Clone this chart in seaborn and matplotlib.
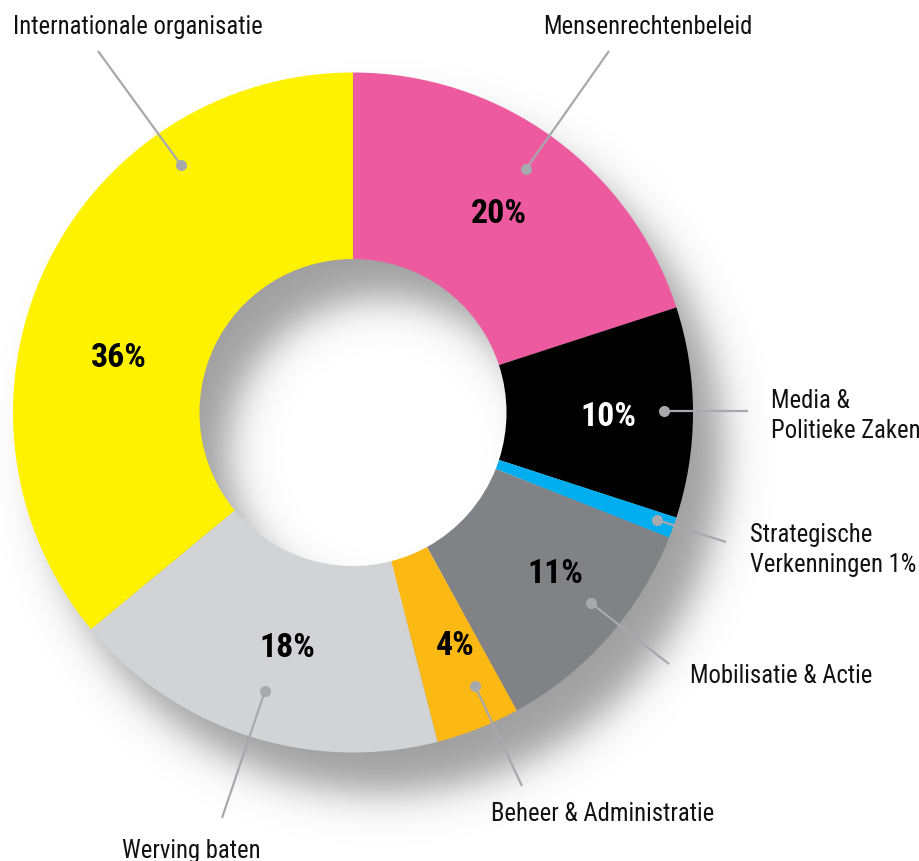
import numpy as np
import matplotlib
matplotlib.use("Agg")
import matplotlib.pyplot as plt
from matplotlib import font_manager
import seaborn as sns

# data, clockwise from 12 o'clock
categories = ["Mensenrechtenbeleid", "Media &\nPolitieke Zaken", "Strategische\nVerkenningen 1%",
              "Mobilisatie & Actie", "Beheer & Administratie", "Werving baten",
              "Internationale organisatie"]
shares = [20, 10, 1, 11, 4, 18, 36]
pct_labels = ["20%", "10%", "", "11%", "4%", "18%", "36%"]
colors = ["#ed5a9f", "#000000", "#00aeef", "#808285", "#fdb913", "#d1d3d4", "#fff200"]

# layout (pixel coordinates of the 919x862 image, y downward)
W, H = 919, 862
CX, CY = 353, 413.5
R_OUT, R_IN = 340, 153.5
pct_pos = [(499, 223), (608, 426), None, (555, 583), (455, 655), (287, 657), (119, 367)]
pct_colors = ["black", "white", None, "black", "black", "black", "black"]
# (text x, first baseline y, dot x, dot y, line end x, line end y)
callouts = [
    (543, 34, 526, 170, 609, 52),
    (771, 408, 664, 412, 748, 412),
    (750, 542, 657, 521, 726, 543),
    (690, 683, 591, 604, 669, 665),
    (491, 821, 475, 687, 522, 787),
    (122, 858, 265, 692, 222, 819),
    (13, 34, 181, 166, 98, 52),
]

sns.set_theme(style="white")

# pick a condensed face (the original uses a condensed gothic)
fonts = font_manager.fontManager.ttflist
have = {f.name for f in fonts}
label_font = next(n for n in ["Roboto Condensed", "Barlow Condensed", "Pathway Gothic One",
                              "Sofia Sans Condensed", "DejaVu Sans"] if n in have)
bold_ok = any(f.name == label_font and f.weight in (700, "bold") for f in fonts)
pct_font = label_font if bold_ok else next(
    n for n in ["Fjalla One", "Oswald", "Barlow Condensed", "DejaVu Sans"] if n in have)
plt.rcParams['font.family'] = [label_font, 'DejaVu Sans']


def fy(y):
    return H - y


fig = plt.figure(figsize=(W / 100, H / 100), dpi=100)
ax = fig.add_axes([0, 0, 1, 1])
renderer = fig.canvas.get_renderer()


def fit_size(txt, target_px, **kw):
    t = ax.text(0, 0, txt, fontsize=20, **kw)
    w = t.get_window_extent(renderer=renderer).width
    t.remove()
    return 20 * target_px / w


label_size = fit_size("Internationale organisatie", 248, family=[label_font, 'DejaVu Sans'])
pct_size = fit_size("36%", 56, family=[pct_font, 'DejaVu Sans'], fontweight="bold")

# soft drop shadow of the ring, offset down-right
xs = np.arange(W) + 0.5
ys = np.arange(H) + 0.5
gx, gy = np.meshgrid(xs, ys)
d = np.hypot(gx - (CX + 30), gy - (fy(CY) - 40))
s = 24.0
ring = 0.5 * (1 + np.tanh((R_OUT - d) / s)) - 0.5 * (1 + np.tanh((R_IN - d) / s))
shadow = np.zeros((H, W, 4))
shadow[..., 3] = 0.38 * np.clip(ring, 0, 1)
ax.imshow(shadow, extent=(0, W, 0, H), origin="lower", zorder=0, interpolation="bilinear")

ax.pie(shares, colors=colors, startangle=90, counterclock=False,
       radius=R_OUT, center=(CX, fy(CY)),
       wedgeprops=dict(width=R_OUT - R_IN, linewidth=0, zorder=1))

for lab, pos, c in zip(pct_labels, pct_pos, pct_colors):
    if pos is None:
        continue
    ax.text(pos[0], fy(pos[1]), lab, ha="center", va="baseline", color=c,
            fontsize=pct_size, fontweight="bold", family=[pct_font, 'DejaVu Sans'], zorder=3)

for cat, (tx, ty, dx, dy, lx, ly) in zip(categories, callouts):
    ax.plot([dx, lx], [fy(dy), fy(ly)], color="#a7a9ac", lw=1.6, zorder=2,
            solid_capstyle="butt")
    ax.plot(dx, fy(dy), "o", color="#a7a9ac", ms=8, mec="none", zorder=2)
    for i, line in enumerate(cat.split("\n")):
        ax.text(tx, fy(ty + 30 * i), line, ha="left", va="baseline",
                fontsize=label_size, color="#111111", zorder=3)

ax.set_xlim(0, W)
ax.set_ylim(0, H)
ax.set_aspect("equal")
ax.axis("off")
fig.savefig("out.png", dpi=100, facecolor="white")
